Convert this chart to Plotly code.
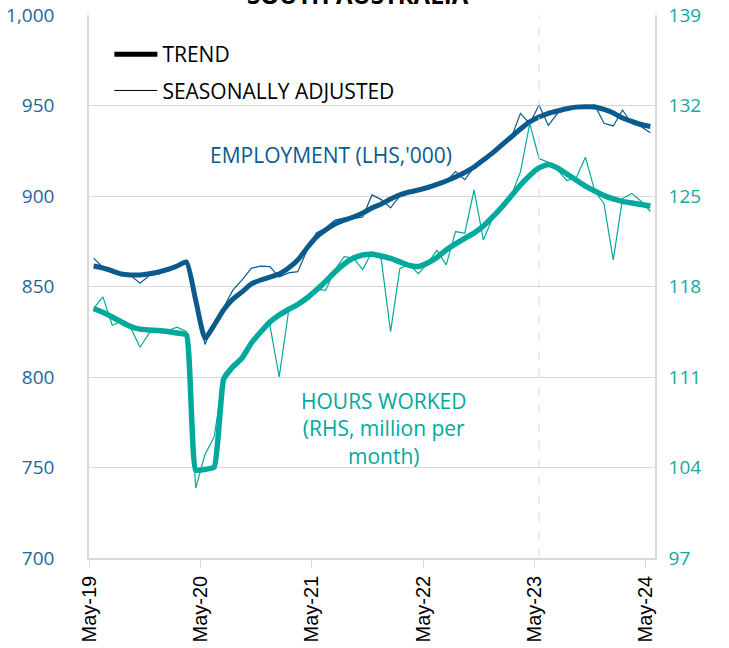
import pandas as pd
import plotly.graph_objects as go

# ---------------- data ----------------
months = list(pd.date_range("2019-05-01", periods=61, freq="MS").strftime("%b-%y"))

emp_trend = [861.3, 860.2, 858.6, 856.9, 856.4, 856.4, 857.0, 858.0, 859.4, 861.3,
             863.5, 842.5, 821.5, 828.7, 837.0, 843.0, 847.0, 851.4, 853.6, 855.2,
             856.9, 860.2, 864.6, 871.3, 877.3, 881.2, 884.5, 886.7, 888.4, 890.6,
             893.4, 895.6, 898.3, 900.6, 902.2, 903.3, 904.7, 906.4, 908.3, 910.5,
             913.0, 916.0, 919.9, 923.8, 928.2, 932.6, 937.0, 940.9, 943.6, 945.7,
             947.0, 948.2, 949.1, 949.3, 949.2, 947.8, 945.9, 943.1, 941.2, 939.5,
             938.4]

emp_sa = [865.7, 860.5, 857.5, 857.0, 856.0, 851.8, 856.0, 857.0, 858.5, 860.5,
          864.3, 840.0, 818.0, 830.4, 838.3, 848.0, 853.6, 860.0, 861.3, 861.0,
          855.2, 857.5, 858.2, 870.0, 879.6, 882.3, 886.7, 887.8, 887.5, 888.4,
          900.6, 898.0, 893.4, 900.0, 902.8, 903.5, 905.0, 906.0, 908.0, 913.5,
          909.0, 916.0, 920.0, 923.5, 928.5, 932.0, 945.7, 940.0, 950.3, 939.0,
          945.7, 948.0, 949.5, 949.5, 950.3, 940.2, 938.7, 947.5, 940.0, 938.3,
          935.0]

hours_trend = [116.3, 116.0, 115.64, 115.26, 114.9, 114.7, 114.64, 114.6, 114.52, 114.4,
               114.25, 103.8, 103.85, 104.04, 110.8, 111.78, 112.47, 113.63, 114.48, 115.26,
               115.8, 116.22, 116.61, 117.11, 117.73, 118.39, 119.12, 119.74, 120.2, 120.44,
               120.5, 120.36, 120.17, 119.9, 119.63, 119.55, 119.82, 120.25, 120.83, 121.29,
               121.72, 122.14, 122.68, 123.38, 124.15, 125.0, 125.85, 126.59, 127.17, 127.44,
               127.17, 126.7, 126.24, 125.77, 125.39, 125.04, 124.77, 124.58, 124.46, 124.34,
               124.23]

hours_sa = [116.3, 117.2, 115.0, 115.3, 114.8, 113.3, 114.4, 114.6, 114.6, 114.85,
            114.5, 102.4, 105.0, 106.4, 111.2, 112.0, 112.5, 113.8, 114.5, 115.0,
            111.0, 116.05, 116.6, 117.2, 117.8, 117.7, 119.3, 120.3, 120.2, 119.3,
            120.7, 120.1, 114.5, 119.4, 119.7, 119.0, 119.8, 120.8, 119.67, 122.25,
            122.12, 125.47, 121.6, 123.3, 124.0, 125.0, 126.86, 130.6, 127.9, 127.6,
            127.0, 126.2, 126.4, 128.0, 125.4, 124.4, 120.05, 124.8, 125.2, 124.6,
            123.8]

tick_labels = ["May-19", "May-20", "May-21", "May-22", "May-23", "May-24"]

# ---------------- style ----------------
BLUE = "#0B5A8C"
TEAL = "#00A99D"
GRID = "#D9D9D9"
FONT = "Open Sans"

x = list(range(len(months)))
tickvals = [months.index(t) - 0.5 for t in tick_labels]

fig = go.Figure()

fig.add_trace(go.Scatter(x=x, y=hours_sa, yaxis="y2", mode="lines",
                         line=dict(color=TEAL, width=1.2), showlegend=False))
fig.add_trace(go.Scatter(x=x, y=hours_trend, yaxis="y2", mode="lines",
                         line=dict(color=TEAL, width=5.5, shape="spline", smoothing=0.4),
                         showlegend=False))
fig.add_trace(go.Scatter(x=x, y=emp_sa, mode="lines",
                         line=dict(color=BLUE, width=1.2), showlegend=False))
fig.add_trace(go.Scatter(x=x, y=emp_trend, mode="lines",
                         line=dict(color=BLUE, width=5, shape="spline", smoothing=0.5),
                         showlegend=False))

# legend entries
fig.add_trace(go.Scatter(x=[None], y=[None], mode="lines", name="TREND",
                         line=dict(color="black", width=5), legendgroup="a"))
fig.add_trace(go.Scatter(x=[None], y=[None], mode="lines", name="SEASONALLY ADJUSTED",
                         line=dict(color="black", width=1), legendgroup="b"))

# dashed marker at May-23
fig.add_vline(x=months.index("May-23"), line=dict(color=GRID, width=1, dash="dash"))

fig.update_layout(
    width=729, height=648,
    margin=dict(l=89, r=74, t=15, b=90, autoexpand=False),
    plot_bgcolor="white", paper_bgcolor="white",
    font=dict(family=FONT, size=18, color="black"),
    showlegend=True,
    legend=dict(x=0.036, y=0.965, xanchor="left", yanchor="top",
                bgcolor="rgba(0,0,0,0)", font=dict(size=21, family=FONT),
                itemwidth=43, tracegroupgap=6),
    xaxis=dict(range=[-0.5, len(months) - 0.5], tickmode="array", tickvals=tickvals,
               ticktext=tick_labels, tickangle=-90, ticks="outside", ticklen=8,
               tickcolor=GRID, showgrid=False, showline=True, linecolor=GRID,
               linewidth=1.5, zeroline=False, automargin=False,
               ticklabeloverflow="allow",
               tickfont=dict(family="Liberation Sans, Arial", size=20, color="black")),
    yaxis=dict(range=[700, 1000], dtick=50, tickformat=",", showgrid=True,
               gridcolor=GRID, gridwidth=1.2, showline=True, linecolor=GRID,
               linewidth=1.5, zeroline=False, ticks="", ticklabelstandoff=29,
               automargin=False, ticklabeloverflow="allow",
               tickfont=dict(family=FONT, size=19, color="#1B679A")),
    yaxis2=dict(range=[97, 139], tick0=97, dtick=7, overlaying="y", side="right",
                showgrid=False, showline=True, linecolor=GRID, linewidth=1.5,
                zeroline=False, ticks="", ticklabelstandoff=8, automargin=False,
                ticklabeloverflow="allow",
                tickfont=dict(family=FONT, size=19, color="#17A89B")),
)

fig.add_annotation(text="<b>SOUTH AUSTRALIA</b>", xref="paper", yref="paper",
                   x=0.475, y=1.038, xanchor="center", yanchor="middle",
                   showarrow=False, font=dict(size=24, family=FONT, color="black"))

fig.add_annotation(text="EMPLOYMENT (LHS,'000)", xref="x", yref="y",
                   x=25.6, y=922.7, showarrow=False,
                   font=dict(size=21, family=FONT, color=BLUE))
fig.add_annotation(text="HOURS WORKED<br>(RHS, million per<br>month)", xref="x", yref="y",
                   x=31.3, y=771.8, showarrow=False, align="center",
                   font=dict(size=21, family=FONT, color=TEAL))

fig.write_html("out.html", config={"displayModeBar": False},
               post_script="document.body.style.margin='0';document.body.style.overflow='hidden';")
